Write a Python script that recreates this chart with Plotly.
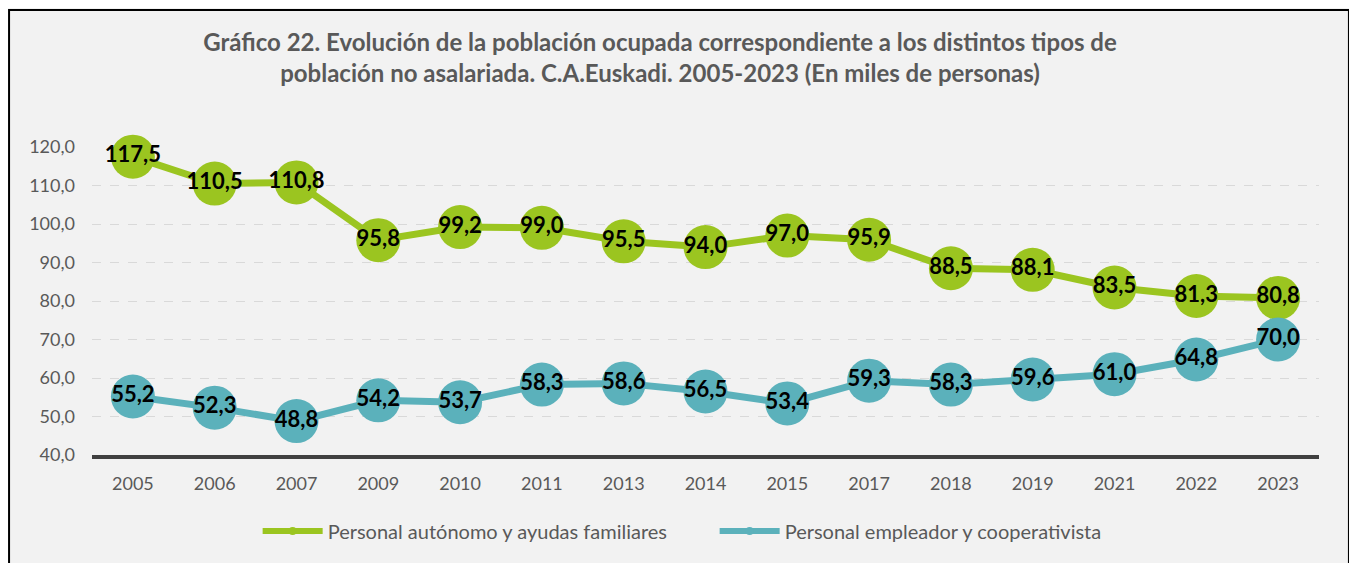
import plotly.graph_objects as go

# --- Dados do gráfico ---
years = ['2005', '2006', '2007', '2009', '2010', '2011', '2013', '2014',
         '2015', '2017', '2018', '2019', '2021', '2022', '2023']
autonomo = [117.5, 110.5, 110.8, 95.8, 99.2, 99.0, 95.5, 94.0,
            97.0, 95.9, 88.5, 88.1, 83.5, 81.3, 80.8]
empleador = [55.2, 52.3, 48.8, 54.2, 53.7, 58.3, 58.6, 56.5,
             53.4, 59.3, 58.3, 59.6, 61.0, 64.8, 70.0]
y_ticks = [40, 50, 60, 70, 80, 90, 100, 110, 120]

name_aut = 'Personal autónomo y ayudas familiares'
name_emp = 'Personal empleador y cooperativista'
green = '#9BC520'
teal = '#5BB1BB'

fig = go.Figure()

# Séries com marcadores grandes e rótulos
for vals, color in [(autonomo, green), (empleador, teal)]:
    fig.add_trace(go.Scatter(
        x=years, y=vals, mode='lines+markers+text',
        line=dict(color=color, width=7),
        marker=dict(color=color, size=44),
        texttemplate='%{y:.1f}', textposition='middle center',
        textfont=dict(family='Lato', size=22, color='black', weight='bold'),
        showlegend=False, cliponaxis=False,
    ))

# Entradas de legenda com marcadores pequenos
for name, color in [(name_aut, green), (name_emp, teal)]:
    fig.add_trace(go.Scatter(
        x=[None], y=[None], mode='lines+markers', name=name,
        line=dict(color=color, width=6), marker=dict(color=color, size=8),
    ))

fig.update_layout(
    width=1357, height=563,
    separators=',.',
    paper_bgcolor='#F2F2F2', plot_bgcolor='#F2F2F2',
    margin=dict(l=84, r=46, t=139, b=116),
    font=dict(family='Lato', size=18, color='#595959'),
    title=dict(
        text='Gráfico 22. Evolución de la población ocupada correspondiente a los distintos tipos de<br>'
             'población no asalariada. C.A.Euskadi. 2005-2023 (En miles de personas)',
        x=0.4805, xanchor='center', y=0.9236, yanchor='middle',
        font=dict(family='Lato', size=24, color='#595959', weight='bold'),
    ),
    xaxis=dict(
        type='category', range=[-0.5, len(years) - 0.5],
        showgrid=False, showline=True, automargin=False,
        linecolor='#404040', linewidth=4, ticks='', ticklabelstandoff=9,
    ),
    yaxis=dict(
        range=[40, 120], tickvals=y_ticks, tickformat='.1f', automargin=False,
        showgrid=True, gridcolor='#D9D9D9', griddash='dash', gridwidth=1,
        zeroline=False, showline=False, ticklabelstandoff=16,
    ),
    legend=dict(
        orientation='h', x=0.135, xanchor='left', y=-0.247, yanchor='middle',
        font=dict(size=20, color='#595959'), itemwidth=60,
        entrywidth=382, entrywidthmode='pixels',
    ),
    shapes=[dict(
        type='rect', xref='paper', yref='paper',
        x0=-0.0676, x1=1.0244, y0=-0.5, y1=1.4448,
        line=dict(color='black', width=2), fillcolor='rgba(0,0,0,0)',
    )],
)

fig.write_html('out.html')
